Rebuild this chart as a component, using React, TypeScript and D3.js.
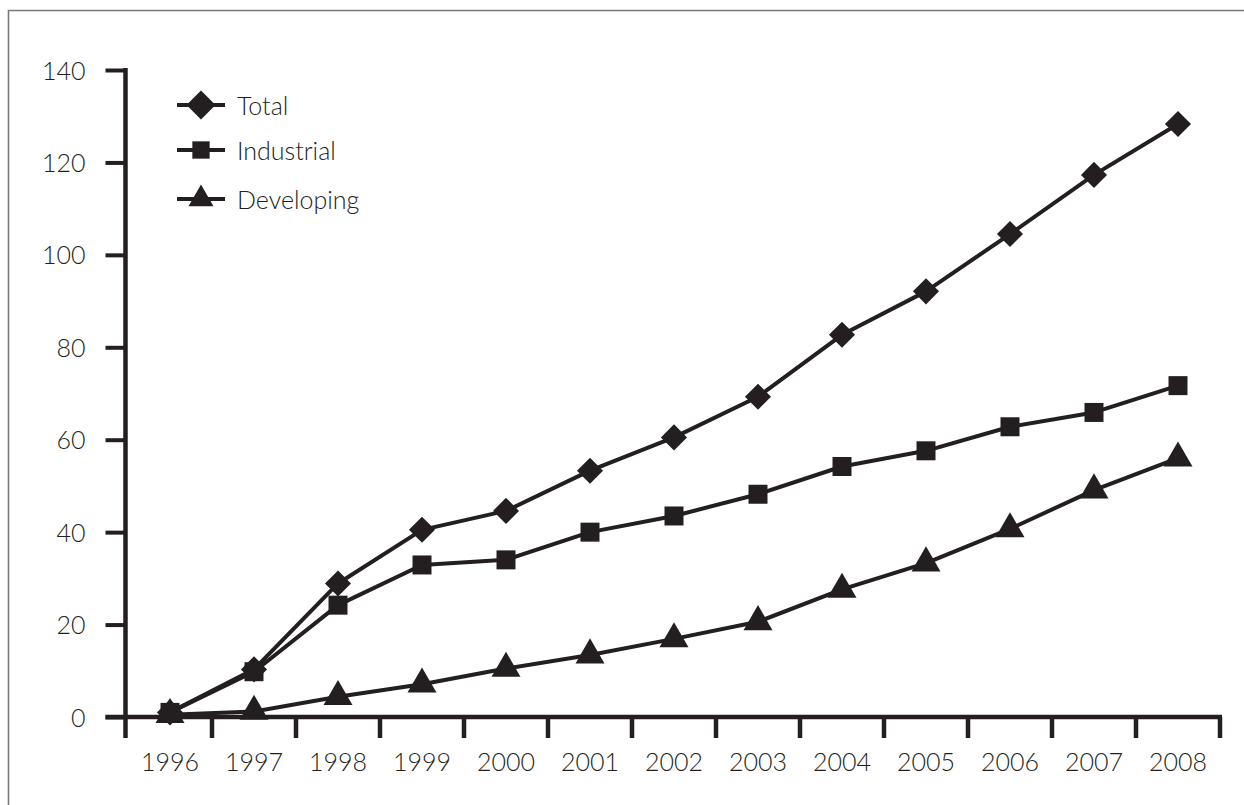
import React, { useRef, useEffect } from 'react';
import * as d3 from 'd3';

const years = ['1996', '1997', '1998', '1999', '2000', '2001', '2002', '2003', '2004', '2005', '2006', '2007', '2008'];
const total = [1, 10.3, 28.9, 40.5, 44.6, 53.3, 60.5, 69.3, 82.7, 92.1, 104.5, 117.3, 128.3];
const industrial = [1, 9.8, 24.2, 32.9, 34, 40, 43.5, 48.2, 54.2, 57.6, 62.8, 65.9, 71.7];
const developing = [0.5, 1.2, 4.4, 7.1, 10.5, 13.4, 16.9, 20.6, 27.6, 33.3, 40.7, 49.1, 56.0];
const yTicks = [0, 20, 40, 60, 80, 100, 120, 140];
const seriesNames = ['Total', 'Industrial', 'Developing'];

const INK = '#231f20';
const FONT = 'Lato, "Open Sans", sans-serif';

type Shape = 'diamond' | 'square' | 'triangle';

function markerPath(shape: Shape, legend = false): string {
  // sizes are symbol areas in px^2
  if (shape === 'diamond') return d3.symbol(d3.symbolSquare, legend ? 420 : 340)()!;
  if (shape === 'square') return d3.symbol(d3.symbolSquare, legend ? 300 : 361)()!;
  return d3.symbol(d3.symbolTriangle, legend ? 270 : 364)()!;
}

function styleText(sel: any) {
  sel.attr('fill', INK)
    .style('font-family', FONT)
    .style('font-weight', 300)
    .style('font-size', '25px');
}

export default function App() {
  const svgRef = useRef<SVGSVGElement>(null);

  useEffect(() => {
    if (!svgRef.current) return;
    const svg = d3.select(svgRef.current);
    svg.selectAll('*').remove();

    const x = d3.scaleBand<string>().domain(years).range([128, 1220]).padding(0);
    const y = d3.scaleLinear().domain([0, 140]).range([717, 70]);
    const axisX = 125.5;
    const axisBottom = 738;

    // frame
    svg.append('path')
      .attr('d', `M8.5,${axisBottom + 200} V10.5 H1300`)
      .attr('fill', 'none')
      .attr('stroke', '#77787b')
      .attr('stroke-width', 1.6);

    // Y axis
    const yAxis = svg.append('g')
      .attr('transform', `translate(${axisX},0)`)
      .call(d3.axisLeft(y).tickValues(yTicks).tickSize(20).tickPadding(20).tickSizeOuter(0));
    yAxis.select('.domain').remove();
    yAxis.selectAll('line').attr('stroke', INK).attr('stroke-width', 4);
    yAxis.selectAll('text').attr('dy', '0.36em').call(styleText);
    svg.append('line')
      .attr('x1', axisX).attr('x2', axisX)
      .attr('y1', y(140) - 2).attr('y2', axisBottom)
      .attr('stroke', INK).attr('stroke-width', 4.5);

    // X axis
    svg.append('line')
      .attr('x1', axisX - 20).attr('x2', x.range()[1] + 2)
      .attr('y1', y(0)).attr('y2', y(0))
      .attr('stroke', INK).attr('stroke-width', 4.5);
    years.forEach(yr => {
      const bx = (x(yr) ?? 0) + x.bandwidth();
      svg.append('line')
        .attr('x1', bx).attr('x2', bx)
        .attr('y1', y(0)).attr('y2', axisBottom)
        .attr('stroke', INK).attr('stroke-width', 4.5);
      svg.append('text')
        .attr('x', (x(yr) ?? 0) + x.bandwidth() / 2)
        .attr('y', 771)
        .attr('text-anchor', 'middle')
        .call(styleText)
        .text(yr);
    });

    const series: { name: string; values: number[]; shape: Shape }[] = [
      { name: seriesNames[0], values: total, shape: 'diamond' },
      { name: seriesNames[1], values: industrial, shape: 'square' },
      { name: seriesNames[2], values: developing, shape: 'triangle' },
    ];

    const line = d3.line<number>()
      .x((_, i) => (x(years[i]) ?? 0) + x.bandwidth() / 2)
      .y(d => y(d));

    // draw developing first so total sits on top
    [...series].reverse().forEach(s => {
      svg.append('path')
        .datum(s.values)
        .attr('fill', 'none')
        .attr('stroke', INK)
        .attr('stroke-width', 4)
        .attr('stroke-linejoin', 'round')
        .attr('d', line);
      svg.selectAll(null)
        .data(s.values)
        .enter()
        .append('path')
        .attr('d', markerPath(s.shape))
        .attr('fill', INK)
        .attr('transform', (d, i) => {
          const cx = (x(years[i]) ?? 0) + x.bandwidth() / 2;
          return `translate(${cx},${y(d)})${s.shape === 'diamond' ? ' rotate(45)' : ''}`;
        });
    });

    // legend
    const legendRows = [105, 150, 199];
    const legend = svg.append('g');
    series.forEach((s, i) => {
      const ly = legendRows[i];
      legend.append('line')
        .attr('x1', 177).attr('x2', 225)
        .attr('y1', ly).attr('y2', ly)
        .attr('stroke', INK).attr('stroke-width', 4);
      legend.append('path')
        .attr('d', markerPath(s.shape, true))
        .attr('fill', INK)
        .attr('transform', `translate(201,${ly})${s.shape === 'diamond' ? ' rotate(45)' : ''}`);
      legend.append('text')
        .attr('x', 237)
        .attr('y', ly + 10)
        .call(styleText)
        .text(s.name);
    });
  }, []);

  return (
    <div style={{ position: 'fixed', left: 0, top: 0, width: 1244, height: 805, background: '#fff' }}>
      <svg ref={svgRef} width={1244} height={805} style={{ display: 'block' }} />
    </div>
  );
}
